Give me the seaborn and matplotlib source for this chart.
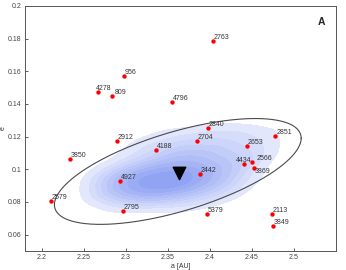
import numpy as np
import pandas as pd
import seaborn as sns
import matplotlib.pyplot as plt
from matplotlib.colors import LinearSegmentedColormap

# asteroid family members (number, semi-major axis, eccentricity)
names = ["2763", "956", "4278", "809", "4796", "2840", "2851", "2912", "2704",
         "4188", "2653", "3850", "2566", "4434", "3869", "2442", "4927", "2579",
         "2795", "5379", "2113", "3849"]
a_vals = [2.404, 2.298, 2.267, 2.283, 2.355, 2.398, 2.478, 2.2895, 2.385,
          2.336, 2.444, 2.234, 2.4506, 2.441, 2.453, 2.388, 2.293, 2.2104,
          2.296, 2.396, 2.474, 2.4745]
e_vals = [0.1788, 0.1574, 0.1472, 0.1450, 0.1410, 0.1254, 0.1205, 0.1174, 0.1172,
          0.1117, 0.1144, 0.1062, 0.1046, 0.1032, 0.1010, 0.0970, 0.0928, 0.0805,
          0.0746, 0.0728, 0.0726, 0.0654]

# parent body position
parent_a = [2.3632]
parent_e = [0.0977]

# background cloud, density read on a coarse grid
cloud_a = [2.26, 2.28, 2.30, 2.32, 2.34, 2.36, 2.38, 2.40, 2.42, 2.44, 2.46, 2.48]
cloud_e = [0.125, 0.120, 0.115, 0.110, 0.105, 0.100, 0.095, 0.090, 0.085, 0.080, 0.075]
cloud_density = [
    [0, 0, 0, 0, 1, 1, 1, 2, 2, 2, 1, 1],
    [0, 0, 0, 1, 1, 2, 2, 2, 2, 2, 2, 1],
    [0, 0, 1, 2, 2, 3, 3, 3, 3, 2, 2, 1],
    [0, 0, 1, 2, 3, 4, 4, 4, 3, 3, 2, 1],
    [0, 1, 2, 3, 4, 5, 5, 4, 4, 3, 2, 0],
    [1, 2, 4, 5, 6, 6, 6, 5, 4, 3, 1, 0],
    [2, 4, 6, 7, 7, 8, 7, 5, 4, 2, 1, 0],
    [2, 4, 6, 7, 7, 7, 6, 5, 3, 2, 0, 0],
    [2, 4, 5, 6, 6, 5, 4, 3, 2, 1, 0, 0],
    [1, 2, 3, 3, 3, 3, 2, 2, 1, 0, 0, 0],
    [0, 1, 1, 1, 1, 1, 1, 0, 0, 0, 0, 0],
]

# boundary ellipse: centre, spreads, correlation
ell_center = (2.3618, 0.0987)
ell_sx, ell_sy, ell_r = 0.1468, 0.0324, 0.628

label_offsets = {"4434": (-6.0, 0.0), "2566": (3.0, 0.0), "3869": (0.5, -5.5),
                 "4278": (-1.5, 0.0), "809": (2.0, 0.0)}

sns.set_style("white")
plt.rcParams["font.family"] = ["Liberation Sans", "DejaVu Sans"]

fig = plt.figure(figsize=(3.46, 2.70), dpi=100)
ax = fig.add_axes([0.0723, 0.0704, 0.8987, 0.9074])

ga, ge = np.meshgrid(cloud_a, cloud_e)
cloud = pd.DataFrame({"a": ga.ravel(), "e": ge.ravel(),
                      "w": np.array(cloud_density, dtype=float).ravel()})
cloud = cloud[cloud["w"] > 0]
cmap = LinearSegmentedColormap.from_list("cloud", ["#e8ecfd", "#8c9ff2"])
sns.kdeplot(data=cloud, x="a", y="e", weights="w", fill=True, levels=10,
            thresh=0.07, cmap=cmap, bw_adjust=0.7, ax=ax)

t = np.linspace(0, 2 * np.pi, 300)
ex = ell_center[0] + ell_sx * np.cos(t)
ey = ell_center[1] + ell_sy * (ell_r * np.cos(t) + np.sqrt(1 - ell_r ** 2) * np.sin(t))
ax.plot(ex, ey, color="#4a4a4a", lw=0.8)

members = pd.DataFrame({"name": names, "a": a_vals, "e": e_vals})
sns.scatterplot(data=members, x="a", y="e", color="red", s=10, linewidth=0,
                ax=ax, zorder=4)
for n, a, e in zip(names, a_vals, e_vals):
    dx, dy = label_offsets.get(n, (0.5, 0.0))
    ax.annotate(n, (a, e), xytext=(dx, dy), textcoords="offset points",
                fontsize=5, color="#333333", ha="left", va="bottom")

ax.scatter(parent_a, parent_e, marker="v", s=80, color="black", zorder=5)

ax.text(0.955, 0.935, "A", transform=ax.transAxes, fontsize=7.5,
        fontweight="bold", ha="center", va="center")

ax.set_xlim(2.18, 2.55)
ax.set_ylim(0.05, 0.2)
ax.set_xticks([2.2, 2.25, 2.3, 2.35, 2.4, 2.45, 2.5])
ax.set_xticklabels(["2.2", "2.25", "2.3", "2.35", "2.4", "2.45", "2.5"])
ax.set_yticks([0.06, 0.08, 0.1, 0.12, 0.14, 0.16, 0.18, 0.2])
ax.set_yticklabels(["0.06", "0.08", "0.1", "0.12", "0.14", "0.16", "0.18", "0.2"])
ax.tick_params(direction="in", length=2.5, width=0.6, labelsize=5,
               colors="#444444", pad=2.5, left=True, bottom=True)
for sp in ax.spines.values():
    sp.set_color("#555555")
    sp.set_linewidth(0.7)
ax.set_xlabel("a [AU]", fontsize=5, color="#333333", labelpad=1)
ax.set_ylabel("e", fontsize=5, color="#333333", labelpad=0)
ax.yaxis.set_label_coords(-0.06, 0.5)

fig.savefig("out.png", dpi=100)
